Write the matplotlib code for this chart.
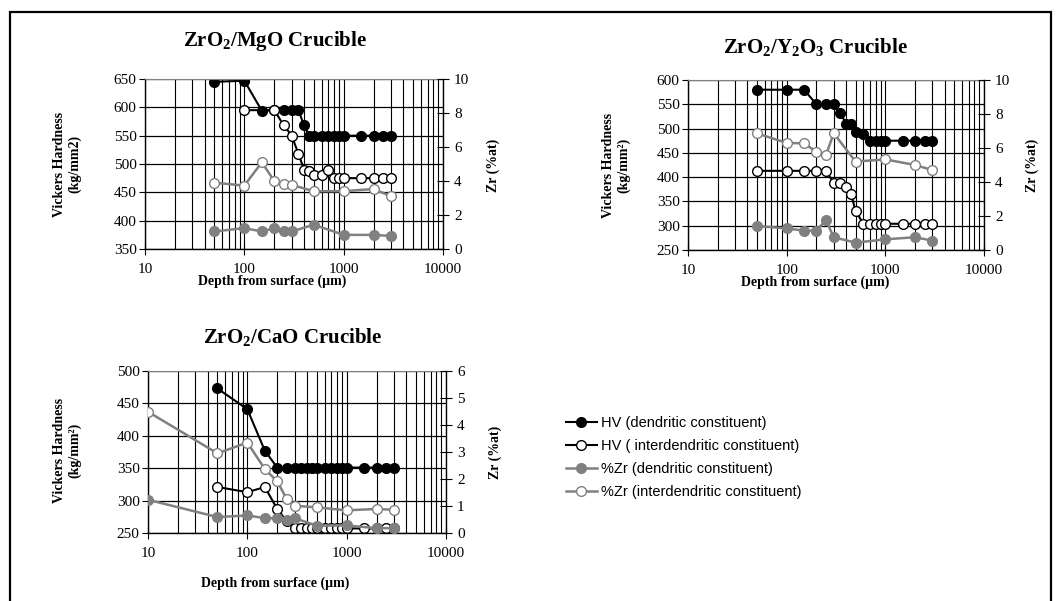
import matplotlib
matplotlib.use("Agg")
import matplotlib.pyplot as plt
from matplotlib.ticker import LogLocator, NullFormatter, FixedLocator, FixedFormatter
from matplotlib.patches import Rectangle

plt.rcParams['font.family'] = ['Liberation Serif', 'DejaVu Serif']
plt.rcParams['mathtext.default'] = 'regular'

W, H = 1060, 601

# ---------------- data ----------------
# ZrO2/MgO crucible
mgo_hv_d_x = [50, 100, 150, 200, 250, 300, 350, 400, 450, 500, 600, 700, 800, 900, 1000, 1500, 2000, 2500, 3000]
mgo_hv_d_y = [645, 647, 594, 595, 595, 595, 595, 568, 550, 550, 550, 550, 550, 550, 550, 550, 550, 550, 550]
mgo_hv_i_x = [100, 200, 250, 300, 350, 400, 450, 500, 600, 700, 800, 900, 1000, 1500, 2000, 2500, 3000]
mgo_hv_i_y = [595, 595, 568, 550, 518, 490, 488, 480, 480, 490, 475, 475, 475, 475, 475, 475, 475]
mgo_zr_x = [50, 100, 150, 200, 250, 300, 500, 1000, 2000, 3000]
mgo_zr_d = [1.03, 1.23, 1.03, 1.23, 1.03, 1.03, 1.43, 0.83, 0.83, 0.77]
mgo_zr_i = [3.9, 3.73, 5.1, 4.0, 3.83, 3.77, 3.4, 3.4, 3.53, 3.1]

# ZrO2/Y2O3 crucible
y_hv_d_x = [50, 100, 150, 200, 250, 300, 350, 400, 450, 500, 600, 700, 800, 900, 1000, 1500, 2000, 2500, 3000]
y_hv_d_y = [580, 580, 580, 550, 550, 550, 532, 510, 510, 493, 488, 475, 475, 475, 475, 475, 475, 475, 475]
y_hv_i_x = [50, 100, 150, 200, 250, 300, 350, 400, 450, 500, 600, 700, 800, 900, 1000, 1500, 2000, 2500, 3000]
y_hv_i_y = [413, 413, 413, 413, 413, 388, 388, 380, 365, 330, 304, 304, 304, 304, 304, 304, 304, 304, 304]
y_zr_x = [50, 100, 150, 200, 250, 300, 500, 1000, 2000, 3000]
y_zr_d = [1.41, 1.27, 1.14, 1.14, 1.76, 0.75, 0.43, 0.63, 0.75, 0.55]
y_zr_i = [6.86, 6.3, 6.27, 5.78, 5.59, 6.86, 5.2, 5.33, 5.0, 4.7]

# ZrO2/CaO crucible
ca_hv_d_x = [50, 100, 150, 200, 250, 300, 350, 400, 450, 500, 600, 700, 800, 900, 1000, 1500, 2000, 2500, 3000]
ca_hv_d_y = [473, 441, 377, 351, 351, 351, 351, 351, 351, 351, 351, 351, 351, 351, 351, 351, 351, 351, 351]
ca_hv_i_x = [50, 100, 150, 200, 250, 300, 350, 400, 450, 500, 600, 700, 800, 900, 1000, 1500, 2000, 2500, 3000]
ca_hv_i_y = [321, 313, 321, 287, 268, 257, 257, 257, 257, 257, 257, 257, 257, 257, 257, 257, 257, 257, 257]
ca_zr_x = [10, 50, 100, 150, 200, 250, 300, 500, 1000, 2000, 3000]
ca_zr_d = [1.23, 0.59, 0.65, 0.55, 0.55, 0.49, 0.55, 0.27, 0.28, 0.18, 0.18]
ca_zr_i = [4.49, 2.95, 3.35, 2.37, 1.91, 1.25, 1.01, 0.95, 0.84, 0.89, 0.86]

labels = ["HV (dendritic constituent)", "HV ( interdendritic constituent)",
          "%Zr (dendritic constituent)", "%Zr (interdendritic constituent)"]

GRAY = '#808080'
MS = 7

fig = plt.figure(figsize=(W / 100, H / 100), dpi=100)

def rect(l, t, r, b):
    return [l / W, 1 - b / H, (r - l) / W, (b - t) / H]

def panel(box, hv_d, hv_i, zr_x, zr_d, zr_i, ylim, yticks, zlim, zticks):
    ax = fig.add_axes(rect(*box))
    ax.set_xscale('log')
    ax.set_xlim(10, 10000)
    ax.set_ylim(*ylim)
    ax.set_axisbelow(True)
    ax.xaxis.set_major_locator(FixedLocator([10, 100, 1000, 10000]))
    ax.xaxis.set_major_formatter(FixedFormatter(['10', '100', '1000', '10000']))
    ax.xaxis.set_minor_locator(LogLocator(base=10, subs=range(2, 10)))
    ax.xaxis.set_minor_formatter(NullFormatter())
    ax.set_yticks(yticks)
    ax.grid(True, which='major', axis='y', color='black', lw=0.9)
    ax.grid(True, which='both', axis='x', color='black', lw=0.8)
    ax.tick_params(which='minor', length=0)
    ax.tick_params(axis='y', which='major', direction='out', length=4, labelsize=11, pad=2)
    ax.tick_params(axis='x', which='major', direction='inout', length=8, labelsize=11, pad=6)
    ax.spines['top'].set_color(GRAY)
    ax.spines['right'].set_visible(False)
    for s in ['left', 'bottom']:
        ax.spines[s].set_linewidth(1.0)
    l1, = ax.plot(*hv_d, color='black', lw=1.5, marker='o', ms=MS,
                  mfc='black', mec='black')
    l2, = ax.plot(*hv_i, color='black', lw=1.5, marker='o', ms=MS,
                  mfc='white', mec='black', mew=1.0)
    az = ax.twinx()
    az.set_ylim(*zlim)
    az.set_yticks(zticks)
    az.tick_params(axis='y', direction='inout', length=8, labelsize=11, pad=4)
    az.spines['top'].set_visible(False)
    az.spines['left'].set_visible(False)
    az.spines['bottom'].set_visible(False)
    az.spines['right'].set_linewidth(1.0)
    l3, = az.plot(zr_x, zr_d, color=GRAY, lw=1.8, marker='o', ms=MS,
                  mfc=GRAY, mec=GRAY)
    l4, = az.plot(zr_x, zr_i, color=GRAY, lw=1.8, marker='o', ms=MS,
                  mfc='white', mec=GRAY, mew=1.0)
    return ax, [l1, l2, l3, l4]

ax1, handles = panel((145, 79, 443, 249), (mgo_hv_d_x, mgo_hv_d_y), (mgo_hv_i_x, mgo_hv_i_y),
                     mgo_zr_x, mgo_zr_d, mgo_zr_i, (350, 650), range(350, 651, 50),
                     (0, 10), range(0, 11, 2))
ax2, _ = panel((688, 80, 984, 250), (y_hv_d_x, y_hv_d_y), (y_hv_i_x, y_hv_i_y),
               y_zr_x, y_zr_d, y_zr_i, (250, 600), range(250, 601, 50),
               (0, 10), range(0, 11, 2))
ax3, _ = panel((148, 371, 446, 533), (ca_hv_d_x, ca_hv_d_y), (ca_hv_i_x, ca_hv_i_y),
               ca_zr_x, ca_zr_d, ca_zr_i, (250, 500), range(250, 501, 50),
               (0, 6), range(0, 7, 1))

def ftext(x, y, s, **kw):
    fig.text(x / W, 1 - y / H, s, **kw)

bold = dict(fontweight='bold', ha='center', va='center')
ftext(275, 41, r"ZrO$_2$/MgO Crucible", fontsize=15, **bold)
ftext(815, 47, r"ZrO$_2$/Y$_2$O$_3$ Crucible", fontsize=15, **bold)
ftext(293, 337, r"ZrO$_2$/CaO Crucible", fontsize=15, **bold)

ftext(272, 281, "Depth from surface (µm)", fontsize=10, **bold)
ftext(815, 282, "Depth from surface (µm)", fontsize=10, **bold)
ftext(275, 583, "Depth from surface (µm)", fontsize=10, **bold)

ftext(67, 164, "Vickers Hardness\n(kg/mm2)", fontsize=10, rotation=90,
      multialignment='center', **bold)
ftext(616, 165, "Vickers Hardness\n(kg/mm²)", fontsize=10, rotation=90,
      multialignment='center', **bold)
ftext(67, 450, "Vickers Hardness\n(kg/mm²)", fontsize=10, rotation=90,
      multialignment='center', **bold)

ftext(493, 165, "Zr (%at)", fontsize=10, rotation=90, **bold)
ftext(1032, 165, "Zr (%at)", fontsize=10, rotation=90, **bold)
ftext(495, 452, "Zr (%at)", fontsize=10, rotation=90, **bold)

leg = fig.legend(handles, labels, loc='upper left', bbox_to_anchor=(566 / W, 1 - 416 / H),
                 frameon=False, prop={'family': 'Liberation Sans', 'size': 10.5},
                 handlelength=2.1, handletextpad=0.3, labelspacing=0.62, borderpad=0,
                 borderaxespad=0)

fig.patches.append(Rectangle((10 / W, -0.05), 1041 / W, 1.05 - 12 / H,
                             transform=fig.transFigure, fill=False,
                             edgecolor='black', lw=1.6))

fig.savefig("out.png", dpi=100)
